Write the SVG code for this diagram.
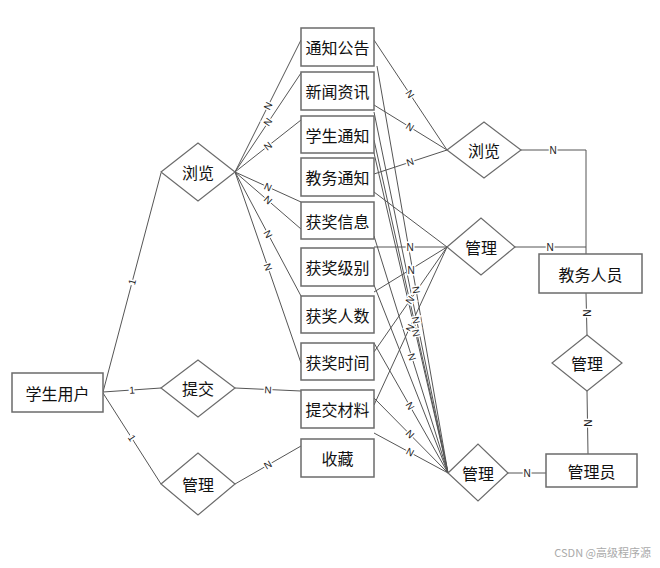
<svg xmlns="http://www.w3.org/2000/svg" width="660" height="568" viewBox="0 0 660 568">
<style>
.box{fill:#fff;stroke:#6b6b6b;stroke-width:1.5}
.dia{fill:#fff;stroke:#6b6b6b;stroke-width:1.2}
.t{font-family:"Noto Sans CJK SC","Liberation Sans",sans-serif;font-size:16px;fill:#111;text-anchor:middle;dominant-baseline:central}
.ln{stroke:#555;stroke-width:1;fill:none}
.lb{font-family:"Liberation Sans","DejaVu Sans",sans-serif;font-size:10px;fill:#222;text-anchor:middle;dominant-baseline:central;stroke:#fff;stroke-width:3;paint-order:stroke}
.wm{font-family:"Noto Sans CJK SC","Liberation Sans",sans-serif;font-size:11px;fill:#aaa;text-anchor:end}
</style>
<rect width="660" height="568" fill="#fff"/>
<g id="connectors">
<line class="ln" x1="103" y1="392" x2="161" y2="173"/>
<line class="ln" x1="103" y1="392" x2="161" y2="388"/>
<line class="ln" x1="103" y1="393" x2="161" y2="484"/>
<line class="ln" x1="235" y1="172" x2="301" y2="40"/>
<line class="ln" x1="235" y1="172" x2="301" y2="73"/>
<line class="ln" x1="235" y1="172" x2="301" y2="120"/>
<line class="ln" x1="235" y1="172" x2="301" y2="202"/>
<line class="ln" x1="235" y1="172" x2="301" y2="229"/>
<line class="ln" x1="235" y1="172" x2="301" y2="296"/>
<line class="ln" x1="235" y1="172" x2="301" y2="363"/>
<line class="ln" x1="235" y1="388" x2="301" y2="391"/>
<line class="ln" x1="235" y1="484" x2="301" y2="446"/>
<line class="ln" x1="374" y1="40" x2="447" y2="150"/>
<line class="ln" x1="374" y1="105" x2="447" y2="150"/>
<line class="ln" x1="374" y1="174" x2="447" y2="150"/>
<line class="ln" x1="374" y1="192" x2="447" y2="247"/>
<line class="ln" x1="374" y1="247" x2="447" y2="247"/>
<line class="ln" x1="374" y1="292" x2="447" y2="247"/>
<line class="ln" x1="374" y1="352" x2="447" y2="247"/>
<line class="ln" x1="374" y1="405" x2="447" y2="247"/>
<line class="ln" x1="377" y1="66" x2="448" y2="473"/>
<line class="ln" x1="374" y1="112" x2="448" y2="473"/>
<line class="ln" x1="374" y1="140" x2="448" y2="473"/>
<line class="ln" x1="374" y1="153" x2="448" y2="473"/>
<line class="ln" x1="374" y1="236" x2="448" y2="473"/>
<line class="ln" x1="374" y1="285" x2="448" y2="473"/>
<line class="ln" x1="374" y1="343" x2="448" y2="473"/>
<line class="ln" x1="374" y1="398" x2="448" y2="473"/>
<line class="ln" x1="374" y1="433" x2="448" y2="473"/>
<polyline class="ln" points="520,150 586,150 586,254"/>
<line class="ln" x1="515" y1="247" x2="586" y2="247"/>
<line class="ln" x1="586" y1="293" x2="587" y2="335"/>
<line class="ln" x1="587" y1="391" x2="588" y2="454"/>
<line class="ln" x1="508" y1="473" x2="546" y2="473"/>
<text class="lb" x="132" y="282" transform="rotate(-75 132 282)">1</text>
<text class="lb" x="132" y="390" transform="rotate(-4 132 390)">1</text>
<text class="lb" x="132" y="438" transform="rotate(57 132 438)">1</text>
<text class="lb" x="268" y="106" transform="rotate(-63 268 106)">N</text>
<text class="lb" x="268" y="122" transform="rotate(-56 268 122)">N</text>
<text class="lb" x="268" y="146" transform="rotate(-38 268 146)">N</text>
<text class="lb" x="268" y="187" transform="rotate(24 268 187)">N</text>
<text class="lb" x="268" y="200" transform="rotate(41 268 200)">N</text>
<text class="lb" x="268" y="234" transform="rotate(62 268 234)">N</text>
<text class="lb" x="268" y="267" transform="rotate(71 268 267)">N</text>
<text class="lb" x="268" y="390" transform="rotate(3 268 390)">N</text>
<text class="lb" x="268" y="465" transform="rotate(-30 268 465)">N</text>
<text class="lb" x="410" y="94" transform="rotate(56 410 94)">N</text>
<text class="lb" x="410" y="127" transform="rotate(32 410 127)">N</text>
<text class="lb" x="410" y="162" transform="rotate(-18 410 162)">N</text>
<text class="lb" x="410" y="247">N</text>
<text class="lb" x="411" y="270">N</text>
<text class="lb" x="410" y="300" transform="rotate(-55 410 300)">N</text>
<text class="lb" x="410" y="328" transform="rotate(-65 410 328)">N</text>
<text class="lb" x="416" y="290" transform="rotate(80 416 290)">N</text>
<text class="lb" x="416" y="320" transform="rotate(78 416 320)">N</text>
<text class="lb" x="416" y="333" transform="rotate(77 416 333)">N</text>
<text class="lb" x="412" y="357" transform="rotate(73 412 357)">N</text>
<text class="lb" x="410" y="406" transform="rotate(60 410 406)">N</text>
<text class="lb" x="410" y="434" transform="rotate(45 410 434)">N</text>
<text class="lb" x="410" y="452" transform="rotate(28 410 452)">N</text>
<text class="lb" x="553" y="150">N</text>
<text class="lb" x="550" y="247">N</text>
<text class="lb" x="586" y="313" transform="rotate(90 586 313)">N</text>
<text class="lb" x="587" y="423" transform="rotate(90 587 423)">N</text>
<text class="lb" x="527" y="473">N</text>
</g>
<g id="student"><rect class="box" x="12" y="373" width="91" height="39"/><text class="t" x="57.5" y="392.5">学生用户</text></g>
<g id="browse1"><polygon class="dia" points="161,172 198,143 235,172 198,201"/><text class="t" x="198" y="172">浏览</text></g>
<g id="submit"><polygon class="dia" points="161,388 198,360 235,388 198,417"/><text class="t" x="198" y="388">提交</text></g>
<g id="manage1"><polygon class="dia" points="161,484 198,453 235,484 198,515"/><text class="t" x="198" y="484">管理</text></g>
<g id="e1"><rect class="box" x="301" y="28" width="73" height="38"/><text class="t" x="337.5" y="47">通知公告</text></g>
<g id="e2"><rect class="box" x="301" y="72" width="73" height="38"/><text class="t" x="337.5" y="91">新闻资讯</text></g>
<g id="e3"><rect class="box" x="301" y="116" width="73" height="37"/><text class="t" x="337.5" y="134.5">学生通知</text></g>
<g id="e4"><rect class="box" x="301" y="158" width="73" height="38"/><text class="t" x="337.5" y="177">教务通知</text></g>
<g id="e5"><rect class="box" x="301" y="202" width="73" height="37"/><text class="t" x="337.5" y="220.5">获奖信息</text></g>
<g id="e6"><rect class="box" x="301" y="248" width="73" height="38"/><text class="t" x="337.5" y="267">获奖级别</text></g>
<g id="e7"><rect class="box" x="301" y="296" width="73" height="37"/><text class="t" x="337.5" y="314.5">获奖人数</text></g>
<g id="e8"><rect class="box" x="301" y="343" width="73" height="37"/><text class="t" x="337.5" y="361.5">获奖时间</text></g>
<g id="e9"><rect class="box" x="301" y="390" width="73" height="38"/><text class="t" x="337.5" y="409">提交材料</text></g>
<g id="e10"><rect class="box" x="301" y="439" width="73" height="38"/><text class="t" x="337.5" y="458">收藏</text></g>
<g id="browse2"><polygon class="dia" points="447,150 484,122 521,150 484,178"/><text class="t" x="484" y="150">浏览</text></g>
<g id="manage2"><polygon class="dia" points="447,247 481,218 515,247 481,275"/><text class="t" x="481" y="247">管理</text></g>
<g id="manage3"><polygon class="dia" points="448,473 478,444 508,473 478,501"/><text class="t" x="478" y="473">管理</text></g>
<g id="manage4"><polygon class="dia" points="552,363 587,335 622,363 587,391"/><text class="t" x="587" y="363">管理</text></g>
<g id="teacher"><rect class="box" x="539" y="254" width="103" height="39"/><text class="t" x="590.5" y="273.5">教务人员</text></g>
<g id="admin"><rect class="box" x="546" y="454" width="91" height="33"/><text class="t" x="591.5" y="470.5">管理员</text></g>
<text class="wm" x="651" y="557">CSDN @高级程序源</text>
</svg>
